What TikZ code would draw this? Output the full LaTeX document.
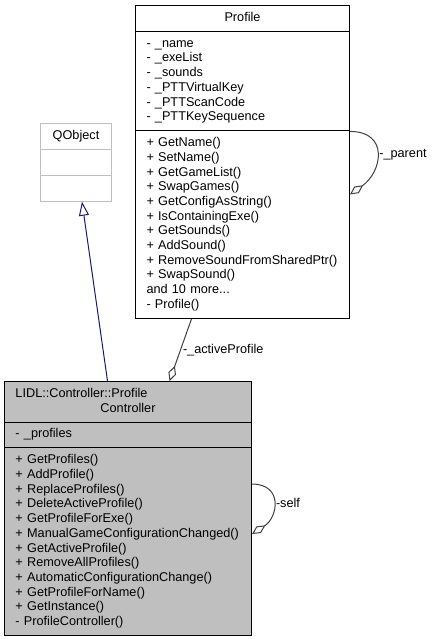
\documentclass[tikz,border=0pt]{standalone}
\usepackage{fontspec}
\setmainfont{Liberation Sans}
\usetikzlibrary{shapes.multipart,arrows.meta}
\definecolor{ctrlfill}{HTML}{BFBFBF}
\definecolor{qgray}{HTML}{BFBFBF}
\definecolor{edgegray}{HTML}{404040}
\definecolor{inhblue}{HTML}{191970}
\tikzset{
  umlclass/.style={rectangle split, rectangle split parts=3, draw=black, fill=white,
    font=\fontsize{12.7}{14.7}\selectfont, align=left, inner xsep=11pt,
    inner ysep=5.1pt, line width=1pt, anchor=north west},
  aggarrow/.style={draw=edgegray, line width=1pt, -{Diamond[open,length=16pt,width=8pt]}},
  inherit/.style={draw=inhblue, line width=1pt, -{Triangle[open,length=14pt,width=10pt]}},
  edgelabel/.style={font=\fontsize{12.7}{14.7}\selectfont, inner sep=2pt}
}
\begin{document}
\begin{tikzpicture}[x=1pt,y=1pt]
  \useasboundingbox (0,0) rectangle (431,639);
  \node[umlclass, text width=192pt] (profile) at (135,634) {\centering\strut Profile\strut\par
    \nodepart{two}\strut - \_name\\
    - \_exeList\\
    - \_sounds\\
    - \_PTTVirtualKey\\
    - \_PTTScanCode\\
    - \_PTTKeySequence\strut
    \nodepart{three}\strut + GetName()\\
    + SetName()\\
    + GetGameList()\\
    + SwapGames()\\
    + GetConfigAsString()\\
    + IsContainingExe()\\
    + GetSounds()\\
    + AddSound()\\
    + RemoveSoundFromSharedPtr()\\
    + SwapSound()\\
    and 10 more...\\
    - Profile()\strut};
  \node[umlclass, draw=qgray, text width=61pt, inner xsep=5pt] (qobject) at (40,516)
    {\centering\strut QObject\strut\par \nodepart{two}\strut \nodepart{three}\strut};
  \node[umlclass, fill=ctrlfill, text width=225pt] (ctrl) at (4,258)
    {{\raggedright\strut LIDL::Controller::Profile\par}\centering Controller\strut\par
    \nodepart{two}\strut - \_profiles\strut
    \nodepart{three}\strut + GetProfiles()\\
    + AddProfile()\\
    + ReplaceProfiles()\\
    + DeleteActiveProfile()\\
    + GetProfileForExe()\\
    + ManualGameConfigurationChanged()\\
    + GetActiveProfile()\\
    + RemoveAllProfiles()\\
    + AutomaticConfigurationChange()\\
    + GetProfileForName()\\
    + GetInstance()\\
    - ProfileController()\strut};
  \draw[inherit] ([xshift=-20.5pt]ctrl.north) -- ([xshift=6pt]qobject.south);
  \draw[aggarrow] ([xshift=-51pt]profile.south) -- node[edgelabel, midway, right]
    {-\_activeProfile} ([xshift=41.5pt]ctrl.north);
  \draw[aggarrow] ([yshift=30.5pt]profile.east) to[out=0, in=35, looseness=1.6]
    node[edgelabel, midway, right] {-\_parent} ([yshift=-32.5pt]profile.east);
  \draw[aggarrow] ([yshift=24.5pt]ctrl.east) to[out=0, in=33, looseness=1.6]
    node[edgelabel, midway, right] {-self} ([yshift=-25.5pt]ctrl.east);
\end{tikzpicture}
\end{document}
